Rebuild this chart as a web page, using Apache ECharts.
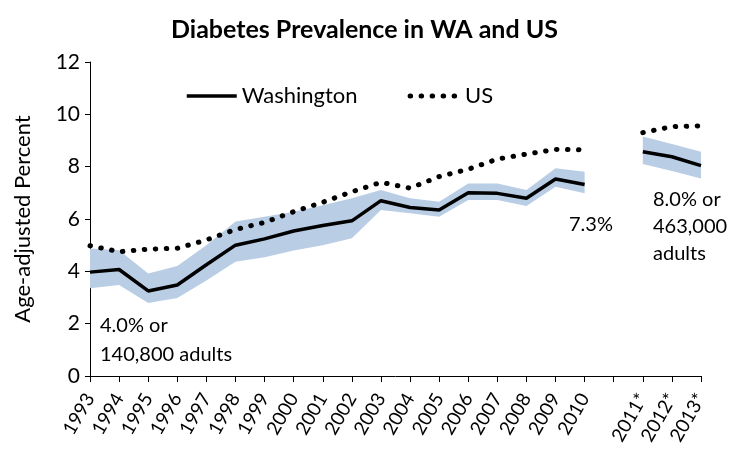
<!DOCTYPE html>
<html>
<head>
<meta charset="utf-8">
<script src="https://cdn.jsdelivr.net/npm/echarts@6/dist/echarts.min.js"></script>
<style>
  html, body { margin: 0; padding: 0; background: #fff; }
  #chart { width: 729px; height: 453px; }
</style>
</head>
<body>
<div id="chart"></div>
<script>
const years = ['1993', '1994', '1995', '1996', '1997', '1998', '1999', '2000', '2001', '2002',
  '2003', '2004', '2005', '2006', '2007', '2008', '2009', '2010', '', '2011*', '2012*', '2013*']
const waValues = [3.97, 4.07, 3.25, 3.48, 4.25, 5.0, 5.24, 5.54, 5.75, 5.93,
  6.7, 6.44, 6.34, 7.0, 6.98, 6.79, 7.53, 7.32, null, 8.57, 8.38, 8.04]
const usValues = [4.98, 4.75, 4.85, 4.88, 5.2, 5.6, 5.87, 6.28, 6.64, 7.04,
  7.4, 7.18, 7.62, 7.9, 8.29, 8.48, 8.66, 8.64, null, 9.3, 9.53, 9.56]
const waLower = [3.35, 3.48, 2.79, 2.98, 3.65, 4.37, 4.54, 4.8, 5.0, 5.26,
  6.34, 6.22, 6.09, 6.73, 6.73, 6.5, 7.23, 6.98, null, 8.1, 7.83, 7.55]
const waUpper = [4.87, 4.81, 3.92, 4.2, 5.0, 5.9, 6.09, 6.28, 6.53, 6.79,
  7.11, 6.79, 6.66, 7.36, 7.36, 7.11, 7.94, 7.81, null, 9.15, 8.87, 8.57]
const yTicks = [0, 2, 4, 6, 8, 10, 12]

// band is drawn as a stack: invisible lower bound + (upper - lower) filled
const bandWidth = waUpper.map((u, i) => (u == null ? null : +(u - waLower[i]).toFixed(2)))

const font = 'Lato, "Open Sans", sans-serif'
const chart = echarts.init(document.getElementById('chart'))

chart.setOption({
  animation: false,
  backgroundColor: '#fff',
  textStyle: { fontFamily: font },
  title: {
    text: 'Diabetes Prevalence in WA and US',
    left: 'center',
    top: 12,
    textStyle: { fontFamily: font, fontSize: 25, fontWeight: 'bold', color: '#000' }
  },
  legend: {
    data: [
      { name: 'Washington', lineStyle: { width: 3.5 } },
      { name: 'US', lineStyle: { width: 5 } }
    ],
    left: 180,
    top: 80,
    itemWidth: 50,
    itemHeight: 14,
    itemGap: 50,
    itemStyle: { opacity: 0 },
    textStyle: { fontFamily: font, fontSize: 22, color: '#000' }
  },
  grid: { left: 90, right: 28, top: 62, bottom: 77 },
  xAxis: {
    type: 'category',
    data: years,
    boundaryGap: false,
    axisLine: { lineStyle: { color: '#000', width: 1 } },
    axisTick: { interval: 0, length: 6, lineStyle: { color: '#000' } },
    axisLabel: { interval: 0, rotate: 60, fontSize: 19, color: '#000', margin: 19, fontFamily: font }
  },
  yAxis: {
    type: 'value',
    min: yTicks[0],
    max: yTicks[yTicks.length - 1],
    interval: 2,
    name: 'Age-adjusted Percent',
    nameLocation: 'middle',
    nameGap: 56,
    nameTextStyle: { fontSize: 22, color: '#000', fontFamily: font },
    axisLine: { show: true, lineStyle: { color: '#000', width: 1 } },
    axisTick: { show: true, length: 5, lineStyle: { color: '#000' } },
    splitLine: { show: false },
    axisLabel: { fontSize: 21, color: '#000', margin: 10, fontFamily: font }
  },
  series: [
    {
      name: 'lower',
      type: 'line',
      stack: 'band',
      data: waLower,
      symbol: 'none',
      lineStyle: { opacity: 0 },
      silent: true
    },
    {
      name: 'band',
      type: 'line',
      stack: 'band',
      data: bandWidth,
      symbol: 'none',
      lineStyle: { opacity: 0 },
      areaStyle: { color: '#b9cde5', opacity: 1 },
      silent: true
    },
    {
      name: 'Washington',
      type: 'line',
      data: waValues,
      symbol: 'none',
      itemStyle: { color: '#000' },
      lineStyle: { color: '#000', width: 3.5 }
    },
    {
      name: 'US',
      type: 'line',
      data: usValues,
      symbol: 'none',
      itemStyle: { color: '#000' },
      lineStyle: { color: '#000', width: 5, type: [0.5, 10.5], cap: 'round' }
    }
  ],
  graphic: [
    {
      type: 'text', left: 100, top: 311,
      style: { text: '4.0% or\n140,800 adults', font: '20px ' + font, fill: '#000', lineHeight: 29 }
    },
    {
      type: 'text', left: 569, top: 215,
      style: { text: '7.3%', font: '20px ' + font, fill: '#000' }
    },
    {
      type: 'text', left: 653, top: 186,
      style: { text: '8.0% or\n463,000\nadults', font: '20px ' + font, fill: '#000', lineHeight: 27 }
    }
  ]
})
</script>
</body>
</html>
